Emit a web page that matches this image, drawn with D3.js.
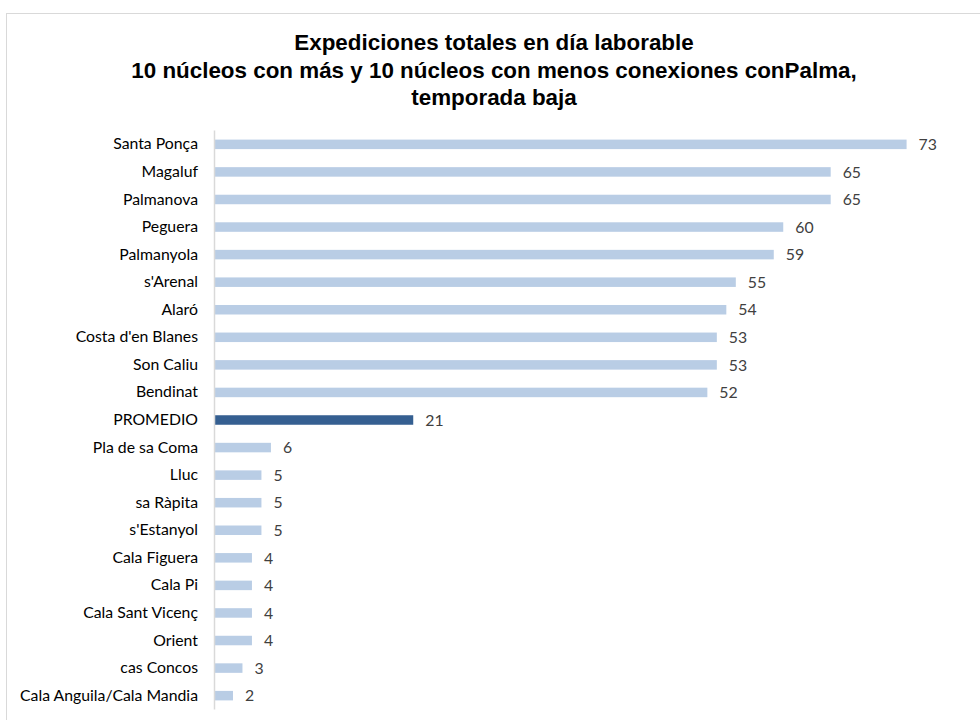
<!DOCTYPE html>
<html>
<head>
<meta charset="utf-8">
<script src="https://cdn.jsdelivr.net/npm/d3@7"></script>
<style>
  html, body { margin: 0; padding: 0; background: #ffffff; }
  svg { display: block; }
</style>
</head>
<body>
<svg id="chart" width="980" height="720"></svg>
<script>
// Núcleos (de arriba a abajo) y número de expediciones en día laborable
const categories = [
  "Santa Ponça", "Magaluf", "Palmanova", "Peguera", "Palmanyola",
  "s'Arenal", "Alaró", "Costa d'en Blanes", "Son Caliu", "Bendinat",
  "PROMEDIO",
  "Pla de sa Coma", "Lluc", "sa Ràpita", "s'Estanyol", "Cala Figuera",
  "Cala Pi", "Cala Sant Vicenç", "Orient", "cas Concos", "Cala Anguila/Cala Mandia"
];
const values = [73, 65, 65, 60, 59, 55, 54, 53, 53, 52, 21, 6, 5, 5, 5, 4, 4, 4, 4, 3, 2];
const highlight = "PROMEDIO";
const titleLines = [
  "Expediciones totales en día laborable",
  "10 núcleos con más y 10 núcleos con menos conexiones conPalma,",
  "temporada baja"
];

const svg = d3.select("#chart");

// Marco del gráfico
svg.append("rect")
  .attr("x", 6.5).attr("y", 13.5)
  .attr("width", 990).attr("height", 720)
  .attr("fill", "#ffffff")
  .attr("stroke", "#d9d9d9").attr("stroke-width", 1);

// Título
const title = svg.append("text")
  .attr("text-anchor", "middle")
  .attr("font-family", "Liberation Sans, Arial, sans-serif")
  .attr("font-weight", "bold")
  .attr("font-size", 22.4)
  .attr("fill", "#000000");
titleLines.forEach((t, i) => {
  title.append("tspan").attr("x", 494).attr("y", 50 + i * 27.5).text(t);
});

// Escalas
const x = d3.scaleLinear().domain([0, 80]).range([214, 973]);
const y = d3.scaleBand().domain(categories).range([130.5, 709.5]).paddingInner(0.655).paddingOuter(0.33);

// Barras
svg.append("g").selectAll("rect")
  .data(categories)
  .join("rect")
  .attr("x", x(0))
  .attr("y", (d) => y(d))
  .attr("width", (d, i) => x(values[i]) - x(0))
  .attr("height", y.bandwidth())
  .attr("fill", (d) => d === highlight ? "#355f91" : "#b9cde5");

// Etiquetas de valor
svg.append("g").selectAll("text")
  .data(categories)
  .join("text")
  .attr("x", (d, i) => x(values[i]) + 12)
  .attr("y", (d) => y(d) + y.bandwidth() / 2)
  .attr("dy", "0.36em")
  .attr("font-family", "Lato, Calibri, sans-serif")
  .attr("font-size", 15.8)
  .attr("fill", "#404040")
  .text((d, i) => values[i]);

// Eje vertical con los nombres de los núcleos
const yAxis = svg.append("g")
  .attr("transform", `translate(${x(0)},0)`)
  .call(d3.axisLeft(y).tickSize(0).tickPadding(16));
yAxis.select(".domain")
  .attr("d", `M0.5,${130.5}V${709.5}`)
  .attr("stroke", "#d9d9d9").attr("stroke-width", 1.5);
yAxis.selectAll("text")
  .attr("font-family", "Lato, Calibri, sans-serif")
  .attr("font-size", 15.8)
  .attr("fill", "#000000");
</script>
</body>
</html>
